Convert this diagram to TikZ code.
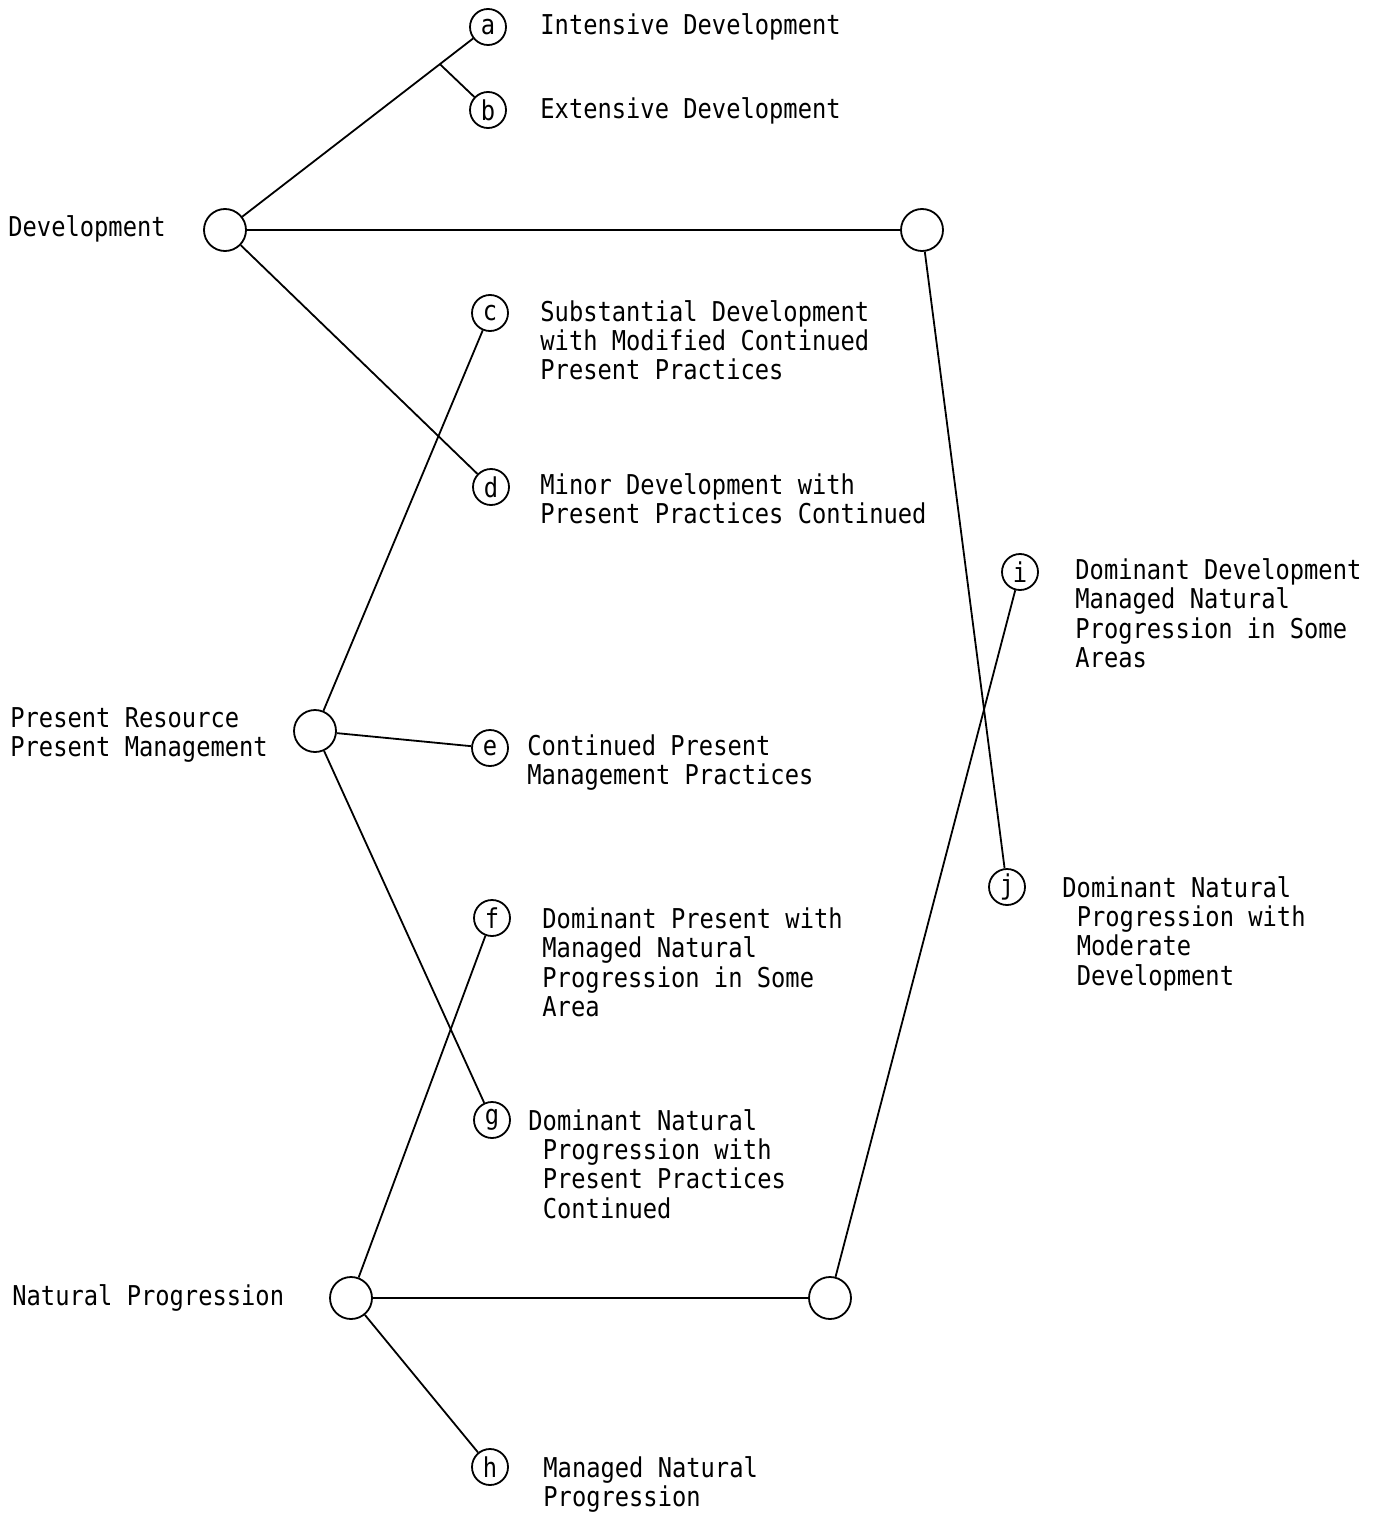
\documentclass[tikz,border=0pt]{standalone}
\usepackage{fontspec}
\newfontfamily\tw[FakeStretch=0.87]{DejaVu Sans Mono}
\usetikzlibrary{calc}
\newcommand\lns[1]{\begin{tabular}[t]{@{}l@{}}#1\end{tabular}}
\newcommand\ind{\hspace*{7.2pt}}
\begin{document}
\begin{tikzpicture}[x=0.5pt,y=-0.5pt,
  every node/.style={font=\tw\fontsize{13.65}{14.5}\selectfont},
  big/.style={circle,draw,line width=0.9pt,minimum size=21pt,inner sep=0pt},
  small/.style={circle,draw,line width=0.9pt,minimum size=18pt,inner sep=0pt},
  lbl/.style={anchor=base west,inner sep=0pt},
  conn/.style={line width=0.9pt}]
\useasboundingbox (0,0) rectangle (1380,1514);
% main circles
\node[big] (D) at (225,230) {};
\node[big] (R1) at (922,230) {};
\node[big] (P) at (315,731) {};
\node[big] (N) at (351,1298) {};
\node[big] (R2) at (830,1298) {};
% lettered circles
\node[small] (a) at (488,27) {a};
\node[small] (b) at (488,110) {b};
\node[small] (c) at (490,313) {c};
\node[small] (d) at (491,487) {d};
\node[small] (e) at (490,748) {e};
\node[small] (f) at (492,918) {f};
\node[small] (g) at (492,1120) {g};
\node[small] (h) at (490,1467) {h};
\node[small] (i) at (1020,572) {i};
\node[small] (j) at (1007,887) {j};
% left labels
\node[lbl] (tD) at (8,236) {Development};
\node[lbl] (tP) at (10,727) {\lns{Present Resource\\Present Management}};
\node[lbl] (tN) at (12,1305) {Natural Progression};
% option labels
\node[lbl] (ta) at (540,35) {Intensive Development};
\node[lbl] (tb) at (540,119) {Extensive Development};
\node[lbl] (tc) at (540,321) {\lns{Substantial Development\\with Modified Continued\\Present Practices}};
\node[lbl] (td) at (540,494) {\lns{Minor Development with\\Present Practices Continued}};
\node[lbl] (te) at (527,755) {\lns{Continued Present\\Management Practices}};
\node[lbl] (tf) at (542,928) {\lns{Dominant Present with\\Managed Natural\\Progression in Some\\Area}};
\node[lbl] (tg) at (528,1130) {\lns{Dominant Natural\\\ind Progression with\\\ind Present Practices\\\ind Continued}};
\node[lbl] (th) at (543,1477) {\lns{Managed Natural\\Progression}};
\node[lbl] (ti) at (1075,579) {\lns{Dominant Development\\Managed Natural\\Progression in Some\\Areas}};
\node[lbl] (tj) at (1062,897) {\lns{Dominant Natural\\\ind Progression with\\\ind Moderate\\\ind Development}};
% connectors
\coordinate (ab) at ($(D)!0.817!(a)$);
\draw[conn] (D) -- (a);
\draw[conn] (ab) -- (b);
\draw[conn] (D) -- (R1);
\draw[conn] (D) -- (d);
\draw[conn] (R1) -- (j);
\draw[conn] (P) -- (c);
\draw[conn] (P) -- (e);
\draw[conn] (P) -- (g);
\draw[conn] (N) -- (f);
\draw[conn] (N) -- (R2);
\draw[conn] (N) -- (h);
\draw[conn] (R2) -- (i);
\end{tikzpicture}
\end{document}
